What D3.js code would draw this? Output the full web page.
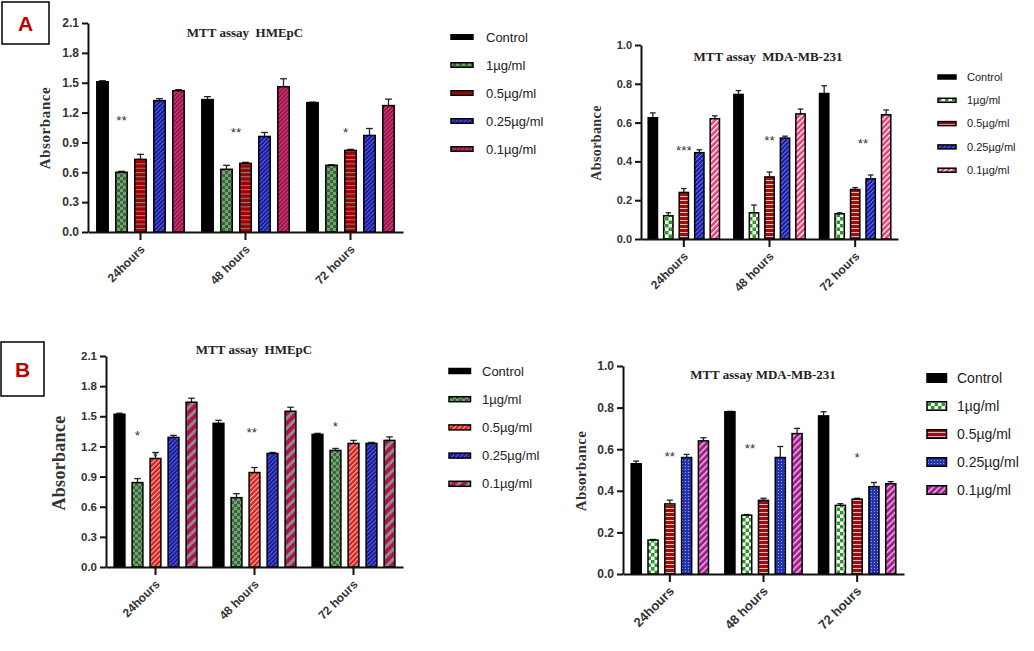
<!DOCTYPE html>
<html><head><meta charset="utf-8">
<script src="https://cdn.jsdelivr.net/npm/d3@7"></script>
<style>body{margin:0;background:#fff}svg{display:block}</style>
</head><body>
<svg id="fig" width="1034" height="651"></svg>
<script>
// ---------- DATA ----------
const timepoints = ["24hours", "48 hours", "72 hours"];
const doses = ["Control", "1µg/ml", "0.5µg/ml", "0.25µg/ml", "0.1µg/ml"];
const yTicksHmepc = [0, 0.3, 0.6, 0.9, 1.2, 1.5, 1.8, 2.1];
const yTicksMda = [0, 0.2, 0.4, 0.6, 0.8, 1.0];

// Panel A – HMEpC (rows: timepoints, cols: doses)
const aHmepcMeans = [
  [1.51, 0.60, 0.73, 1.32, 1.42],
  [1.33, 0.63, 0.69, 0.96, 1.46],
  [1.30, 0.67, 0.82, 0.97, 1.27]
];
const aHmepcErrors = [
  [0.01, 0.01, 0.05, 0.02, 0.01],
  [0.03, 0.04, 0.01, 0.04, 0.08],
  [0.005, 0.005, 0.01, 0.07, 0.065]
];
const aHmepcStars = ["**", "**", "*"];

// Panel A – MDA-MB-231
const aMdaMeans = [
  [0.625, 0.12, 0.24, 0.445, 0.62],
  [0.745, 0.135, 0.32, 0.52, 0.645],
  [0.75, 0.13, 0.255, 0.31, 0.64]
];
const aMdaErrors = [
  [0.025, 0.015, 0.02, 0.015, 0.015],
  [0.02, 0.04, 0.025, 0.01, 0.025],
  [0.04, 0.005, 0.01, 0.02, 0.025]
];
const aMdaStars = ["***", "**", "**"];

// Panel B – HMEpC
const bHmepcMeans = [
  [1.52, 0.84, 1.08, 1.29, 1.64],
  [1.43, 0.69, 0.94, 1.13, 1.55],
  [1.32, 1.16, 1.23, 1.23, 1.26]
];
const bHmepcErrors = [
  [0.01, 0.04, 0.06, 0.02, 0.04],
  [0.03, 0.04, 0.05, 0.01, 0.04],
  [0.01, 0.02, 0.03, 0.01, 0.035]
];
const bHmepcStars = ["*", "*", "**", "*"];

// Panel B – MDA-MB-231
const bMdaMeans = [
  [0.53, 0.163, 0.337, 0.56, 0.64],
  [0.78, 0.283, 0.354, 0.56, 0.675],
  [0.76, 0.33, 0.36, 0.42, 0.434]
];
const bMdaErrors = [
  [0.013, 0.003, 0.018, 0.015, 0.015],
  [0.002, 0.003, 0.01, 0.053, 0.025],
  [0.02, 0.008, 0.004, 0.02, 0.01]
];
const bMdaStars = ["**", "**", "*"];

// ---------- DRAWING ----------
const svg = d3.select("#fig");
const defs = svg.append("defs");
const SANS = "'Liberation Sans', Arial, sans-serif";
const SERIF = "'Liberation Serif', 'Times New Roman', serif";

function pattern(id, w, h, bg, rot) {
  const p = defs.append("pattern").attr("id", id)
    .attr("patternUnits", "userSpaceOnUse").attr("width", w).attr("height", h);
  if (rot) p.attr("patternTransform", `rotate(${rot})`);
  p.append("rect").attr("width", w).attr("height", h).attr("fill", bg);
  return p;
}
let p;
p = pattern("chkGray", 6, 6, "#8e8e8e");
p.append("rect").attr("width", 3).attr("height", 3).attr("fill", "#1f7a1f");
p.append("rect").attr("x", 3).attr("y", 3).attr("width", 3).attr("height", 3).attr("fill", "#1f7a1f");
p = pattern("chkWhite", 7, 7, "#ffffff");
p.append("rect").attr("width", 3.5).attr("height", 3.5).attr("fill", "#2a9a2a");
p.append("rect").attr("x", 3.5).attr("y", 3.5).attr("width", 3.5).attr("height", 3.5).attr("fill", "#2a9a2a");
p = pattern("hRedGray", 4, 4.3, "#a00000");
p.append("rect").attr("width", 4).attr("height", 1).attr("fill", "#9a8585");
p = pattern("hRedLight", 4, 4, "#a80a0a");
p.append("rect").attr("width", 4).attr("height", 1).attr("fill", "#e8b0b0");
p = pattern("dRed", 3.5, 3.5, "#d42020", 45);
p.append("rect").attr("width", 1.2).attr("height", 3.5).attr("fill", "#f5b0a0");
p = pattern("blueHatch", 3, 3, "#1a1a9e", 45);
p.append("rect").attr("width", 0.9).attr("height", 3).attr("fill", "#5a6ad8");
p = pattern("blueHatch2", 3.2, 3.2, "#1a1aa8", 45);
p.append("rect").attr("width", 1).attr("height", 3.2).attr("fill", "#6a7ae0");
p = pattern("crimsonFine", 3, 3, "#a3124e", 45);
p.append("rect").attr("width", 0.8).attr("height", 3).attr("fill", "#cc5585");
p = pattern("pinkWhite", 4, 4, "#e4407a", 45);
p.append("rect").attr("width", 1.3).attr("height", 4).attr("fill", "#ffffff");
p = pattern("crimsonGray", 7, 7, "#b0124e", 45);
p.append("rect").attr("width", 3).attr("height", 7).attr("fill", "#8c8c8c");
p = pattern("purpleDiag", 4.5, 4.5, "#a0208c", 45);
p.append("rect").attr("width", 1.6).attr("height", 4.5).attr("fill", "#e6a6e0");
p = pattern("blueDots", 3, 3, "#2030a8");
p.append("circle").attr("cx", 1.5).attr("cy", 1.5).attr("r", 0.7).attr("fill", "#8a9ae8");

function drawPanel(c) {
  const g = svg.append("g");
  const y = d3.scaleLinear().domain([0, c.yMax]).range([c.yBase, c.yTop]);
  const x0 = d3.scaleBand().domain(timepoints).range([c.xLeft, c.xRight]);
  const x1 = d3.scaleBand().domain(doses).range([-c.groupW / 2, c.groupW / 2])
    .paddingInner(0.4).paddingOuter(0.2);
  const gc = t => x0(t) + x0.bandwidth() / 2;
  const bw = x1.bandwidth();
  const rows = [];
  timepoints.forEach((t, ti) => doses.forEach((d, di) =>
    rows.push({ t, d, di, v: c.means[ti][di], e: c.errs[ti][di] })));
  const cx = r => gc(r.t) + x1(r.d) + bw / 2;

  // error bars
  g.selectAll("line.err").data(rows).join("line").attr("class", "err")
    .attr("x1", cx).attr("x2", cx)
    .attr("y1", r => y(r.v)).attr("y2", r => y(r.v + r.e))
    .attr("stroke", "#222").attr("stroke-width", 1.3);
  g.selectAll("line.cap").data(rows).join("line").attr("class", "cap")
    .attr("x1", r => cx(r) - bw * 0.3).attr("x2", r => cx(r) + bw * 0.3)
    .attr("y1", r => y(r.v + r.e)).attr("y2", r => y(r.v + r.e))
    .attr("stroke", "#222").attr("stroke-width", 1.3);
  // bars
  g.selectAll("rect.bar").data(rows).join("rect").attr("class", "bar")
    .attr("x", r => gc(r.t) + x1(r.d)).attr("y", r => y(r.v))
    .attr("width", bw).attr("height", r => c.yBase - y(r.v))
    .attr("fill", r => c.fills[r.di]).attr("stroke", "#000").attr("stroke-width", 1.5);

  // y axis
  const ya = g.append("g").attr("transform", `translate(${c.xLeft},0)`)
    .call(d3.axisLeft(y).tickValues(c.ticks).tickFormat(d3.format(".1f")).tickSize(6).tickSizeOuter(0).tickPadding(3));
  ya.select(".domain").attr("stroke", "#111").attr("stroke-width", 2);
  ya.selectAll(".tick line").attr("stroke", "#111").attr("stroke-width", 2);
  ya.selectAll(".tick text").attr("font-family", SANS).attr("font-weight", "bold")
    .attr("font-size", c.tickFont).attr("fill", "#333");
  // x axis
  const xa = g.append("g").attr("transform", `translate(0,${c.yBase})`)
    .call(d3.axisBottom(x0).tickSize(8).tickSizeOuter(0));
  xa.select(".domain").attr("stroke", "#111").attr("stroke-width", 2);
  xa.selectAll(".tick line").attr("stroke", "#111").attr("stroke-width", 2);
  xa.selectAll(".tick text").attr("font-family", SANS).attr("font-weight", "bold")
    .attr("font-size", c.xFont).attr("fill", "#333")
    .attr("x", 0).attr("y", 0).attr("dy", 0)
    .attr("text-anchor", "end")
    .attr("transform", `translate(5,18) rotate(-45)`);

  // y label
  g.append("text").attr("transform", `translate(${c.ylab[0]},${c.ylab[1]}) rotate(-90)`)
    .attr("text-anchor", "middle").attr("font-family", SERIF).attr("font-weight", "bold")
    .attr("font-size", c.ylab[2]).attr("letter-spacing", c.ylab[3] || 0).attr("fill", "#333")
    .text("Absorbance");
  // title
  g.append("text").attr("x", c.title[0]).attr("y", c.title[1])
    .attr("text-anchor", "middle").attr("font-family", SERIF).attr("font-weight", "bold")
    .attr("font-size", 13).attr("fill", "#222").style("white-space", "pre")
    .text(c.titleText);
  // stars
  c.starAt.forEach((s, i) => {
    const t = timepoints[s[0]];
    const sx = gc(t) + x1(doses[0]) + bw / 2 + s[1] * x1.step();
    g.append("text").attr("x", sx).attr("y", y(s[2]) + 8)
      .attr("text-anchor", "middle").attr("font-family", SANS)
      .attr("font-size", 13.5).attr("fill", "#333").text(c.stars[i]);
  });
  // legend
  const lg = g.append("g");
  doses.forEach((d, i) => {
    const yy = c.leg.y + i * c.leg.dy;
    lg.append("rect").attr("x", c.leg.x).attr("y", yy - c.leg.h / 2)
      .attr("width", c.leg.w).attr("height", c.leg.h)
      .attr("fill", c.fills[i]).attr("stroke", "#000").attr("stroke-width", 1.5);
    lg.append("text").attr("x", c.leg.tx).attr("y", yy).attr("dy", "0.35em")
      .attr("font-family", SANS).attr("font-size", c.leg.fs).attr("fill", "#222").text(d);
  });
}

drawPanel({
  means: aHmepcMeans, errs: aHmepcErrors, stars: aHmepcStars,
  starAt: [[0, 1, 1.16], [1, 1.5, 1.035], [2, 1.75, 1.03]],
  xLeft: 88, xRight: 403, yBase: 232, yTop: 23, yMax: 2.1, ticks: yTicksHmepc,
  groupW: 95, tickFont: 12, xFont: 12,
  ylab: [50, 128, 15, 0.6], title: [245, 37], titleText: "MTT assay  HMEpC",
  fills: ["#000", "url(#chkGray)", "url(#hRedGray)", "url(#blueHatch)", "url(#crimsonFine)"],
  leg: { x: 451, w: 22, h: 4.5, tx: 486, y: 37, dy: 28, fs: 13 }
});
drawPanel({
  means: aMdaMeans, errs: aMdaErrors, stars: aMdaStars,
  starAt: [[0, 2, 0.476], [1, 2, 0.527], [2, 2.5, 0.51]],
  xLeft: 641, xRight: 898, yBase: 239, yTop: 45, yMax: 1.0, ticks: yTicksMda,
  groupW: 77.5, tickFont: 11, xFont: 12,
  ylab: [601, 143, 14, 0.4], title: [768, 61], titleText: "MTT assay  MDA-MB-231",
  fills: ["#000", "url(#chkWhite)", "url(#hRedLight)", "url(#blueHatch2)", "url(#pinkWhite)"],
  leg: { x: 938, w: 18, h: 4, tx: 967, y: 77, dy: 23.3, fs: 11 }
});
drawPanel({
  means: bHmepcMeans, errs: bHmepcErrors, stars: bHmepcStars,
  starAt: [[0, 1, 1.34], [0, 2, 1.136], [1, 1.85, 1.37], [2, 1, 1.43]],
  xLeft: 106, xRight: 403, yBase: 567, yTop: 356, yMax: 2.1, ticks: yTicksHmepc,
  groupW: 90, tickFont: 11.5, xFont: 12,
  ylab: [65, 463, 18, 0.3], title: [254, 354], titleText: "MTT assay  HMEpC",
  fills: ["#000", "url(#chkGray)", "url(#dRed)", "url(#blueHatch)", "url(#crimsonGray)"],
  leg: { x: 449, w: 21.5, h: 5, tx: 482, y: 371, dy: 28.2, fs: 13 }
});
drawPanel({
  means: bMdaMeans, errs: bMdaErrors, stars: bMdaStars,
  starAt: [[0, 2, 0.58], [1, 1.2, 0.62], [2, 2, 0.576]],
  xLeft: 623, xRight: 904, yBase: 574, yTop: 366, yMax: 1.0, ticks: yTicksMda,
  groupW: 84, tickFont: 12, xFont: 13,
  ylab: [586, 471, 15, 0.4], title: [763, 379], titleText: "MTT assay MDA-MB-231",
  fills: ["#000", "url(#chkWhite)", "url(#hRedLight)", "url(#blueDots)", "url(#purpleDiag)"],
  leg: { x: 927, w: 19.5, h: 8.5, tx: 957, y: 378, dy: 28, fs: 14 }
});

// panel letters
[["A", 2, 2, 47, 42], ["B", 1, 342, 43, 54]].forEach(([t, x, yy, w, h]) => {
  svg.append("rect").attr("x", x).attr("y", yy).attr("width", w).attr("height", h)
    .attr("fill", "none").attr("stroke", "#000").attr("stroke-width", 1.5);
  svg.append("text").attr("x", x + w / 2).attr("y", yy + h / 2).attr("dy", "0.36em")
    .attr("text-anchor", "middle").attr("font-family", SANS).attr("font-weight", "bold")
    .attr("font-size", 21).attr("fill", "#c00000").text(t);
});
</script>
</body></html>
